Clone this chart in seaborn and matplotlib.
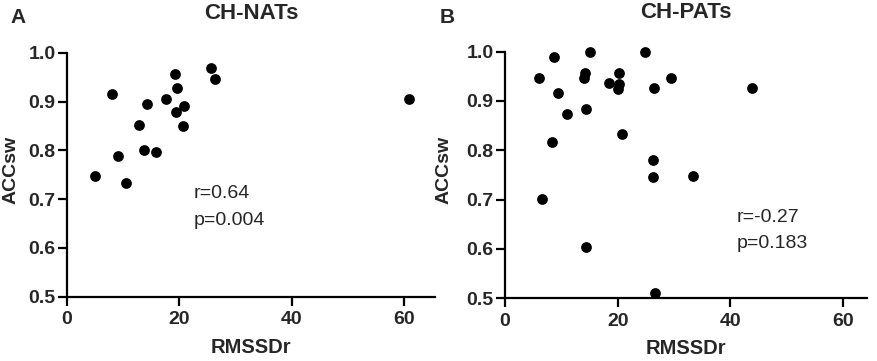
import matplotlib
matplotlib.use("Agg")
import matplotlib.pyplot as plt
import seaborn as sns
import pandas as pd

sns.set_style("ticks")
plt.rcParams['font.family'] = ['Liberation Sans', 'DejaVu Sans']

# Panel A: CH-NATs
nats_rmssd = [5.0, 8.0, 9.2, 10.6, 12.9, 14.2, 13.8, 15.8, 17.6, 19.3, 19.6, 19.4, 20.8, 20.6, 25.7, 26.3, 60.8]
nats_acc = [0.748, 0.915, 0.789, 0.733, 0.852, 0.895, 0.800, 0.797, 0.905, 0.957, 0.927, 0.878, 0.891, 0.849, 0.968, 0.946, 0.905]

# Panel B: CH-PATs
pats_rmssd = [6.1, 8.8, 9.4, 11.1, 8.4, 6.5, 14.0, 14.3, 15.1, 14.4, 14.4, 18.4, 20.2, 20.2, 20.0, 20.8,
              24.9, 26.5, 26.3, 26.3, 26.6, 29.5, 33.4, 43.8]
pats_acc = [0.946, 0.989, 0.916, 0.873, 0.817, 0.702, 0.947, 0.957, 0.999, 0.884, 0.603, 0.936, 0.957, 0.934,
            0.924, 0.832, 0.999, 0.926, 0.781, 0.745, 0.511, 0.947, 0.748, 0.926]

titles = ["CH-NATs", "CH-PATs"]
letters = ["A", "B"]
stats_r = ["r=0.64", "r=-0.27"]
stats_p = ["p=0.004", "p=0.183"]
yticks = [0.5, 0.6, 0.7, 0.8, 0.9, 1.0]
xticks = [0, 20, 40, 60]

fig = plt.figure(figsize=(8.78, 3.61), dpi=100)
axA = fig.add_axes([0.076, 0.178, 0.4195, 0.676])
axB = fig.add_axes([0.575, 0.174, 0.413, 0.683])

dfA = pd.DataFrame({"RMSSDr": nats_rmssd, "ACCsw": nats_acc})
dfB = pd.DataFrame({"RMSSDr": pats_rmssd, "ACCsw": pats_acc})

text_pos = [(22.6, 0.703, 0.648), (41.1, 0.655, 0.602)]
xlims = [65.5, 64.3]
label_x = [-0.128, -0.145]

for i, (ax, df) in enumerate([(axA, dfA), (axB, dfB)]):
    sns.scatterplot(data=df, x="RMSSDr", y="ACCsw", ax=ax, color="black", s=60,
                    edgecolor="black", linewidth=0, clip_on=False, zorder=3)
    ax.set_xlim(0, xlims[i])
    ax.set_ylim(0.5, 1.0)
    ax.set_xticks(xticks)
    ax.set_yticks(yticks)
    ax.set_yticklabels([f"{v:.1f}" for v in yticks])
    sns.despine(ax=ax)
    for s in ["left", "bottom"]:
        ax.spines[s].set_linewidth(1.6)
        ax.spines[s].set_color("black")
    ax.tick_params(axis="both", direction="out", length=6.5, width=1.6, color="black",
                   labelsize=14)
    ax.tick_params(axis="x", pad=4)
    ax.tick_params(axis="y", pad=1.5)
    for lab in ax.get_xticklabels() + ax.get_yticklabels():
        lab.set_fontweight("bold")
    ax.set_xlabel("RMSSDr", fontsize=14.5, fontweight="bold", labelpad=7)
    ax.set_ylabel("ACCsw", fontsize=14, fontweight="bold")
    ax.yaxis.set_label_coords(label_x[i], 0.52)
    ax.set_title(titles[i], fontsize=16, fontweight="bold", pad=24)
    tx, ty1, ty2 = text_pos[i]
    ax.text(tx, ty1, stats_r[i], fontsize=14, va="baseline", ha="left")
    ax.text(tx, ty2, stats_p[i], fontsize=14, va="baseline", ha="left")

fig.text(10 / 878, 1 - 23 / 361, letters[0], fontsize=15, fontweight="bold", va="baseline", ha="left")
fig.text(440 / 878, 1 - 23 / 361, letters[1], fontsize=15, fontweight="bold", va="baseline", ha="left")

fig.savefig("out.png", dpi=100, facecolor="white")
